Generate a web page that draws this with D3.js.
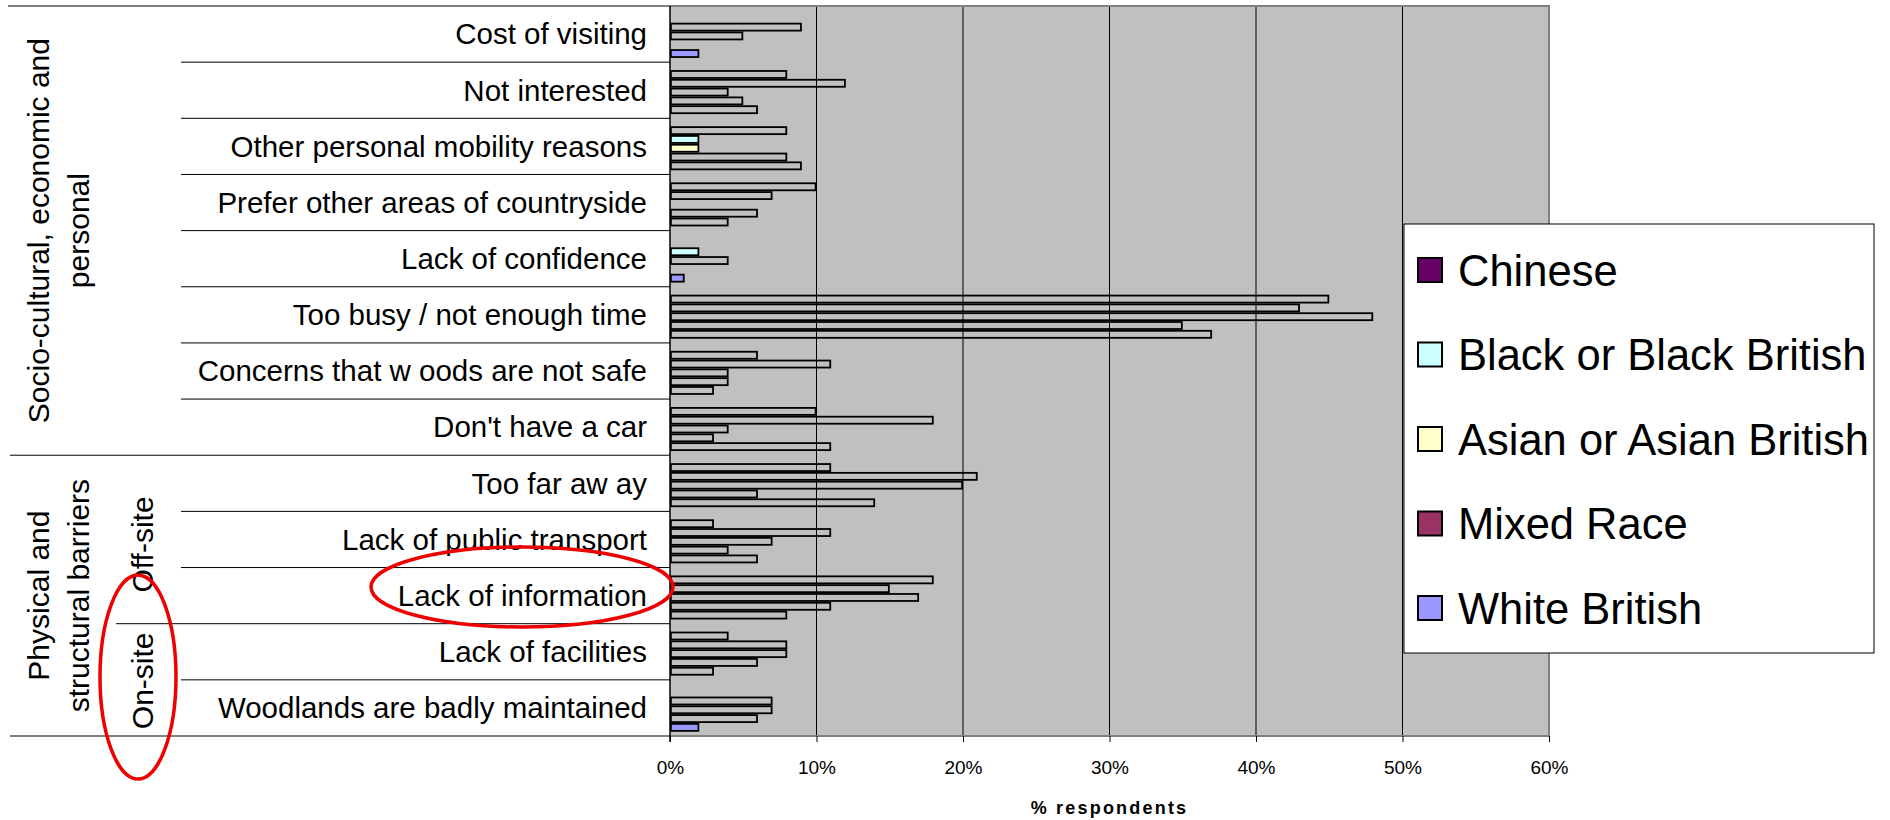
<!DOCTYPE html>
<html>
<head>
<meta charset="utf-8">
<script src="https://cdn.jsdelivr.net/npm/d3@7"></script>
<style>
  html, body { margin: 0; padding: 0; background: #fff; }
  svg { display: block; font-family: "Liberation Sans", Arial, sans-serif; }
</style>
</head>
<body>
<svg id="chart" width="1890" height="820"></svg>
<script>
// Reasons for not visiting woodlands, by ethnic group (% respondents)
const categories = [
  "Cost of visiting",
  "Not interested",
  "Other personal mobility reasons",
  "Prefer other areas of countryside",
  "Lack of confidence",
  "Too busy / not enough time",
  "Concerns that w oods are not safe",
  "Don't have a car",
  "Too far aw ay",
  "Lack of public transport",
  "Lack of information",
  "Lack of facilities",
  "Woodlands are badly maintained"
];

const seriesNames = ["Chinese", "Black or Black British", "Asian or Asian British", "Mixed Race", "White British"];
const seriesColors = ["#660066", "#ccffff", "#ffffcc", "#993366", "#9999ff"];

const chinese      = [0, 8, 8, 10, 0, 45, 6, 10, 11, 3, 18, 4, 0];
const blackBritish = [9, 12, 2, 7, 2, 43, 11, 18, 21, 11, 15, 8, 7];
const asianBritish = [5, 4, 2, 0, 4, 48, 4, 4, 20, 7, 17, 8, 7];
const mixedRace    = [0, 5, 8, 6, 0, 35, 4, 3, 6, 4, 11, 6, 6];
const whiteBritish = [2, 6, 9, 4, 1, 37, 3, 11, 14, 6, 8, 3, 2];
const seriesValues = [chinese, blackBritish, asianBritish, mixedRace, whiteBritish];

const xTicks = [0, 10, 20, 30, 40, 50, 60];
const xTickLabels = ["0%", "10%", "20%", "30%", "40%", "50%", "60%"];
const xTitle = "% respondents";

// Grouping of the reasons along the left side
const groupLabels = [
  { lines: ["Socio-cultural, economic and", "personal"], from: 0, to: 7 },
  { lines: ["Physical and", "structural barriers"], from: 8, to: 12 }
];
const subGroupLabels = [
  { text: "Off-site", from: 8, to: 10 },
  { text: "On-site", from: 11, to: 12 }
];

// ---- layout ----
const plot = { left: 670, right: 1549, top: 6, bottom: 736 };
const svg = d3.select("#chart");

const x = d3.scaleLinear().domain([0, 60]).range([plot.left, plot.right]);
const y = d3.scaleBand().domain(categories).range([plot.top, plot.bottom]).paddingInner(0).paddingOuter(0);
const bw = y.bandwidth();
const ySeries = d3.scaleBand().domain(seriesNames).range([bw * 0.141, bw * 0.925]).padding(0);

// plot background
svg.append("rect")
  .attr("x", plot.left).attr("y", plot.top)
  .attr("width", plot.right - plot.left).attr("height", plot.bottom - plot.top)
  .attr("fill", "#c0c0c0");

// vertical gridlines
svg.append("g").selectAll("line")
  .data(xTicks.filter(d => d > 0 && d < 60))
  .join("line")
  .attr("x1", d => x(d)).attr("x2", d => x(d))
  .attr("y1", plot.top).attr("y2", plot.bottom)
  .attr("stroke", "#000").attr("stroke-width", 1);

// plot frame: grey top/right/bottom
svg.append("line").attr("x1", 8).attr("x2", plot.right + 1).attr("y1", plot.top).attr("y2", plot.top)
  .attr("stroke", "#808080").attr("stroke-width", 2);
svg.append("line").attr("x1", plot.right).attr("x2", plot.right).attr("y1", plot.top).attr("y2", plot.bottom)
  .attr("stroke", "#808080").attr("stroke-width", 2);
svg.append("line").attr("x1", 10).attr("x2", plot.right + 1).attr("y1", plot.bottom).attr("y2", plot.bottom)
  .attr("stroke", "#808080").attr("stroke-width", 2);

// row separators on the category side
const boundaries = categories.slice(1).map((c, i) => ({ i: i + 1, y: y(c) }));
svg.append("g").selectAll("line")
  .data(boundaries)
  .join("line")
  .attr("x1", d => d.i === 8 ? 10 : (d.i === 11 ? 116 : 181))
  .attr("x2", plot.left)
  .attr("y1", d => d.y).attr("y2", d => d.y)
  .attr("stroke", "#000").attr("stroke-width", 1);

// bars: one per ethnic group in each row
const sw = 1.8;
const rows = svg.append("g");
categories.forEach((cat, ci) => {
  const g = rows.append("g").attr("transform", `translate(0,${y(cat)})`);
  g.selectAll("rect")
    .data(seriesNames.map((s, si) => ({ s, si, v: seriesValues[si][ci] })).filter(d => d.v > 0))
    .join("rect")
    .attr("x", x(0) + sw / 2)
    .attr("y", d => ySeries(d.s) + sw / 2)
    .attr("width", d => x(d.v) - x(0) - sw)
    .attr("height", ySeries.bandwidth() - sw)
    // the shortest bars keep their group colour; longer ones are drawn as outlines
    .attr("fill", d => d.v <= 2 ? seriesColors[d.si] : "none")
    .attr("stroke", "#000")
    .attr("stroke-width", sw);
});

// left axis line
svg.append("line").attr("x1", plot.left).attr("x2", plot.left).attr("y1", plot.top).attr("y2", plot.bottom + 6)
  .attr("stroke", "#000").attr("stroke-width", 1.5);

// category labels
const yAxis = svg.append("g")
  .attr("transform", `translate(${plot.left},0)`)
  .call(d3.axisLeft(y).tickSize(0).tickPadding(23));
yAxis.select(".domain").remove();
yAxis.selectAll("text")
  .attr("font-size", 29.5)
  .attr("font-family", "'Liberation Sans', Arial, sans-serif")
  .attr("fill", "#000")
  .attr("dy", "0.35em");

// x axis
const xAxis = svg.append("g")
  .attr("transform", `translate(0,${plot.bottom})`)
  .call(d3.axisBottom(x).tickValues(xTicks).tickFormat((d, i) => xTickLabels[i]).tickSize(6).tickPadding(22));
xAxis.select(".domain").remove();
xAxis.selectAll("line").attr("stroke", "#000");
xAxis.selectAll("text")
  .attr("font-size", 19)
  .attr("font-family", "'Liberation Sans', Arial, sans-serif")
  .attr("fill", "#000")
  .attr("dy", "0.35em")
  .attr("y", 31);

svg.append("text")
  .attr("x", (plot.left + plot.right) / 2).attr("y", 808)
  .attr("text-anchor", "middle").attr("dy", "0.35em")
  .attr("font-size", 18).attr("font-weight", "bold")
  .attr("letter-spacing", 2.2)
  .text(xTitle);

// group labels (rotated)
const bandMid = (from, to) => (y(categories[from]) + y(categories[to]) + bw) / 2;
groupLabels.forEach(gl => {
  const cy = bandMid(gl.from, gl.to);
  gl.lines.forEach((line, li) => {
    svg.append("text")
      .attr("transform", `translate(${[49, 89][li]},${cy}) rotate(-90)`)
      .attr("text-anchor", "middle")
      .attr("font-size", 30)
      .text(line);
  });
});
const subOffsets = [5, 1];
subGroupLabels.forEach((sg, i) => {
  const cy = bandMid(sg.from, sg.to) + subOffsets[i];
  svg.append("text")
    .attr("transform", `translate(153,${cy}) rotate(-90)`)
    .attr("text-anchor", "middle")
    .attr("font-size", 30)
    .text(sg.text);
});

// highlight ellipses
svg.append("ellipse")
  .attr("cx", 138).attr("cy", 677).attr("rx", 38).attr("ry", 102)
  .attr("fill", "none").attr("stroke", "#ee0000").attr("stroke-width", 3.5);
svg.append("ellipse")
  .attr("cx", 522).attr("cy", 587).attr("rx", 151).attr("ry", 40)
  .attr("fill", "none").attr("stroke", "#ee0000").attr("stroke-width", 3.5);

// legend
const legend = svg.append("g");
legend.append("rect")
  .attr("x", 1404).attr("y", 224).attr("width", 470).attr("height", 429)
  .attr("fill", "#fff").attr("stroke", "#000").attr("stroke-width", 1);
const legendY = d3.scalePoint().domain(seriesNames).range([270, 608]);
const items = legend.selectAll("g.item")
  .data(seriesNames)
  .join("g").attr("class", "item")
  .attr("transform", d => `translate(0,${legendY(d)})`);
items.append("rect")
  .attr("x", 1418).attr("y", -12).attr("width", 24).attr("height", 24)
  .attr("fill", (d, i) => seriesColors[i])
  .attr("stroke", "#000").attr("stroke-width", 2);
items.append("text")
  .attr("x", 1458).attr("dy", "0.36em")
  .attr("font-size", 43.5)
  .text(d => d);
</script>
</body>
</html>
